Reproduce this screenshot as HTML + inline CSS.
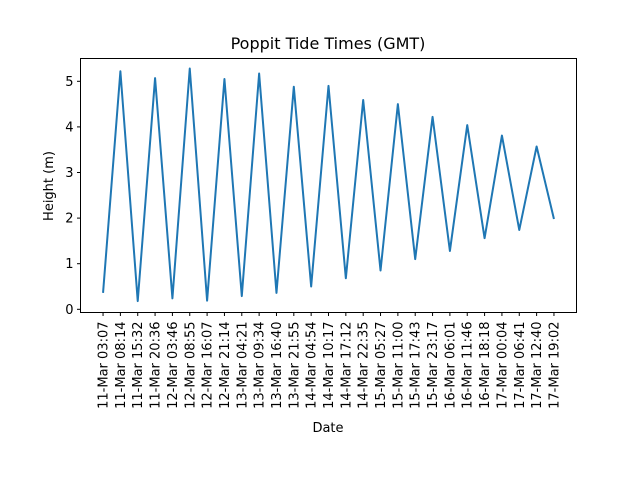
<!DOCTYPE html>
<html><head><meta charset="utf-8"><style>body{margin:0;background:#fff}svg{display:block;font-family:"DejaVu Sans","Liberation Sans",sans-serif}</style></head>
<body>
<svg id="chart" width="640" height="480" viewBox="0 0 640 480" xmlns="http://www.w3.org/2000/svg">
<rect x="0" y="0" width="640" height="480" fill="#fff"/>
<text x="328" y="49" font-size="16" text-anchor="middle" fill="#000">Poppit Tide Times (GMT)</text>
<text x="328" y="432" font-size="13" text-anchor="middle" fill="#000">Date</text>
<text transform="translate(53,186) rotate(-90)" font-size="13" text-anchor="middle" fill="#000">Height (m)</text>
<g id="ticks"></g>
<path id="line" fill="none" stroke="#1f77b4" stroke-width="2" stroke-linejoin="round"/>
<rect x="80.5" y="58.5" width="496" height="254" fill="none" stroke="#000" stroke-width="1"/>
</svg>
<script>
const categories = ["11-Mar 03:07","11-Mar 08:14","11-Mar 15:32","11-Mar 20:36","12-Mar 03:46","12-Mar 08:55","12-Mar 16:07","12-Mar 21:14","13-Mar 04:21","13-Mar 09:34","13-Mar 16:40","13-Mar 21:55","14-Mar 04:54","14-Mar 10:17","14-Mar 17:12","14-Mar 22:35","15-Mar 05:27","15-Mar 11:00","15-Mar 17:43","15-Mar 23:17","16-Mar 06:01","16-Mar 11:46","16-Mar 18:18","17-Mar 00:04","17-Mar 06:41","17-Mar 12:40","17-Mar 19:02"];
const heights = [0.36,5.22,0.18,5.07,0.24,5.28,0.19,5.05,0.29,5.17,0.36,4.88,0.50,4.90,0.68,4.59,0.85,4.50,1.10,4.22,1.28,4.04,1.56,3.81,1.74,3.57,1.98];
const yTicks = [0,1,2,3,4,5];

const NS = "http://www.w3.org/2000/svg";
const L=80.5,R=576.5,T=58.5,B=312.5;
const n = categories.length;
const xMin=-1.3, xMax=(n-1)+1.3;
const yMin=-0.07, yMax=5.5;
function xs(i){return L+(i-xMin)/(xMax-xMin)*(R-L);}
function ys(v){return B-(v-yMin)/(yMax-yMin)*(B-T);}
const g=document.getElementById('ticks');
function mk(tag,attrs){const e=document.createElementNS(NS,tag);for(const k in attrs)e.setAttribute(k,attrs[k]);return e;}
yTicks.forEach(v=>{
  const y=ys(v);
  const t=mk('line',{x1:L-3.5,x2:L,y1:y,y2:y,stroke:'#000'});
  
  
  g.appendChild(t);
  const tx=mk('text',{x:L-7,y:y+4.5,'font-size':13,'text-anchor':'end',fill:'#000'});
  
  
  tx.textContent=v; g.appendChild(tx);
});
categories.forEach((c,i)=>{
  const x=xs(i);
  const t=mk('line',{x1:x,x2:x,y1:B,y2:B+3.5,stroke:'#000'});
  
  
  g.appendChild(t);
  const tx=mk('text',{transform:`translate(${x+4.5},${B+9}) rotate(-90)`,'font-size':13,'text-anchor':'end',fill:'#000'});
  
  
  tx.textContent=c; g.appendChild(tx);
});
document.getElementById('line').setAttribute('d',heights.map((v,i)=>(i?'L':'M')+xs(i).toFixed(2)+','+ys(v).toFixed(2)).join(' '));
</script>
</body></html>
